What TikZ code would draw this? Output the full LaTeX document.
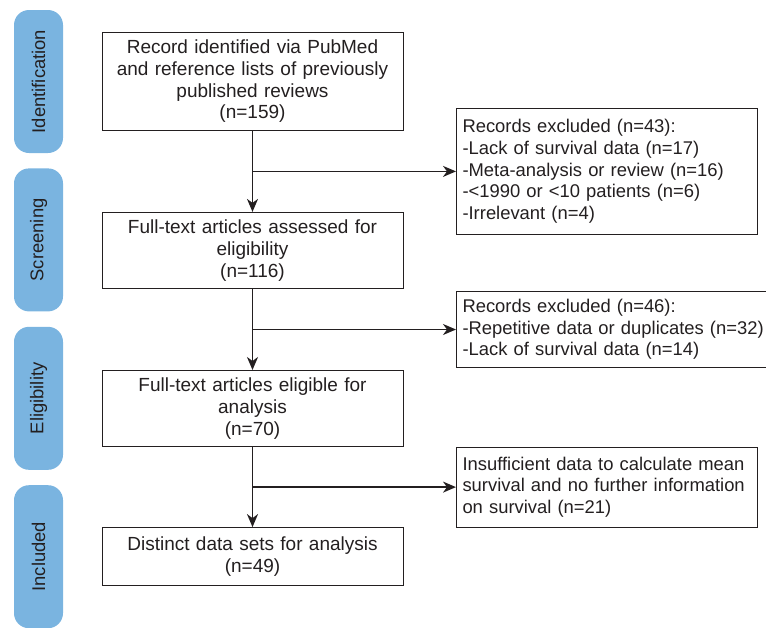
\documentclass[tikz,border=0pt]{standalone}
\usepackage{fontspec}
\setmainfont{Liberation Sans}
\usepackage{graphicx}
\usetikzlibrary{positioning,arrows.meta,calc}
\definecolor{stageblue}{RGB}{122,180,224}
\definecolor{inkgray}{RGB}{35,31,32}

\begin{document}
\begin{tikzpicture}[
  x=1pt, y=-1pt,
  node distance=81pt,
  mainbox/.style={draw=inkgray, line width=1pt, minimum width=301pt,
                  text width=285pt, inner xsep=8pt, inner ysep=7.5pt,
                  align=center, text=inkgray, font=\fontsize{19}{21.7}\selectfont},
  exbox/.style  ={draw=inkgray, line width=1pt, minimum width=301pt,
                  text width=289pt, inner xsep=6pt, inner ysep=7.5pt, anchor=west,
                  align=left, text=inkgray, font=\fontsize{18.4}{21.7}\selectfont},
  stage/.style  ={fill=stageblue, rounded corners=15pt, minimum width=49pt,
                  minimum height=143pt, inner sep=0pt,
                  text=inkgray, font=\fontsize{18.4}{21.7}\selectfont},
  arr/.style    ={-{Stealth[length=13pt,width=11pt,inset=4pt]}, line width=1.5pt, draw=inkgray}]

\useasboundingbox (0,0) rectangle (766,627);

% stages on the left
\node[stage] (ident) at (38.5,81.5) {\rotatebox{90}{Identification}};
\node[stage, below=15pt of ident] (screen) {\rotatebox{90}{Screening}};
\node[stage, below=15pt of screen] (elig) {\rotatebox{90}{Eligibility}};
\node[stage, below=15pt of elig] (incl) {\rotatebox{90}{Included}};

% main flow
\node[mainbox] (records) at (252.5,81.5) {Record identified via PubMed\\and reference lists of previously\\published reviews\\(n=159)};
\node[mainbox, below=of records] (assessed) {Full-text articles assessed for\\eligibility\\(n=116)};
\node[mainbox, below=of assessed] (eligible) {Full-text articles eligible for\\analysis\\(n=70)};
\node[mainbox, below=80pt of eligible, minimum height=58pt] (distinct) {Distinct data sets for analysis\\(n=49)};

% exclusions
\node[exbox, minimum height=126pt] (exclA) at ($(records.south)!0.5!(assessed.north)+(203.5,0)$) {Records excluded (n=43):\\-Lack of survival data (n=17)\\-Meta-analysis or review (n=16)\\-<1990 or <10 patients (n=6)\\-Irrelevant (n=4)};
\node[exbox, minimum width=310pt, text width=298pt] (exclB) at ($(assessed.south)!0.5!(eligible.north)+(203.5,0)$) {Records excluded (n=46):\\\mbox{-Repetitive data or duplicates (n=32)}\\-Lack of survival data (n=14)};
\node[exbox, minimum height=80pt] (exclC) at ($(eligible.south)!0.5!(distinct.north)+(203.5,0)$) {\mbox{Insufficient data to calculate mean}\\\mbox{survival and no further information}\\on survival (n=21)};

\draw[arr] (records) -- (assessed);
\draw[arr] (assessed) -- (eligible);
\draw[arr] (eligible) -- (distinct);
\draw[arr] (exclA.west -| records.south) -- (exclA.west);
\draw[arr] (exclB.west -| assessed.south) -- (exclB.west);
\draw[arr] (exclC.west -| eligible.south) -- (exclC.west);
\end{tikzpicture}
\end{document}
